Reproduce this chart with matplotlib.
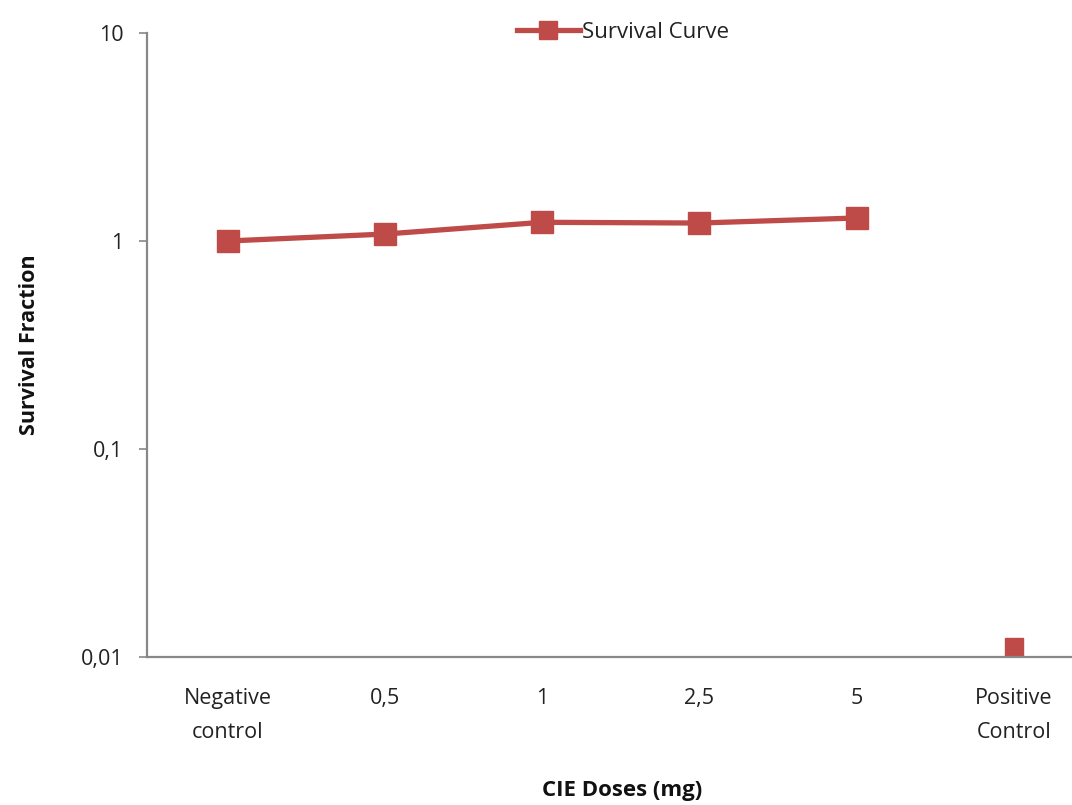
import matplotlib
matplotlib.use("Agg")
import matplotlib.pyplot as plt
import numpy as np

categories = ["Negative\ncontrol", "0,5", "1", "2,5", "5", "Positive\nControl"]
survival = [1.0, 1.08, 1.23, 1.22, 1.29, 0.0112]
connected = [True, True, True, True, True, False]
yticks = [0.01, 0.1, 1, 10]
ytick_labels = ["0,01", "0,1", "1", "10"]

plt.rcParams['font.family'] = ['Open Sans', 'DejaVu Sans']

W, H = 1072, 805
fig = plt.figure(figsize=(W / 100, H / 100), dpi=100)
ax = fig.add_axes([147 / W, 1 - 657 / H, 1 - 147 / W, (657 - 33) / H])

color = "#be4b48"
x = np.arange(len(categories))
surv = np.array(survival)
conn = np.array(connected)
line, = ax.plot(x[conn], surv[conn], color=color, lw=3.8, marker="s", ms=15.5,
                markeredgecolor=color, label="Survival Curve")
ax.plot(x[~conn], surv[~conn], color=color, lw=0, marker="s", ms=13.5,
        markeredgecolor=color)

ax.set_yscale("log")
ax.set_ylim(0.01, 10)
ax.set_xlim(-0.515, 5.37)
ax.set_yticks(yticks)
ax.set_yticklabels(ytick_labels, fontsize=15.5, color="#222222")
ax.yaxis.set_minor_locator(matplotlib.ticker.NullLocator())
ax.set_xticks(x)
ax.set_xticklabels(categories, fontsize=15.5, color="#222222", linespacing=1.85)
ax.tick_params(axis="x", length=0, pad=22)
ax.tick_params(axis="y", length=6, width=1.2, color="#888888", pad=11, direction="out")

for s in ["top", "right"]:
    ax.spines[s].set_visible(False)
for s in ["left", "bottom"]:
    ax.spines[s].set_color("#888888")
    ax.spines[s].set_linewidth(1.6)

fig.text(30 / W, 1 - 345 / H, "Survival Fraction", rotation=90, fontsize=15.5,
         fontweight="bold", ha="center", va="center", color="#111111")
fig.text(622 / W, 1 - 790 / H, "CIE Doses (mg)", fontsize=16,
         fontweight="bold", ha="center", va="center", color="#111111")

leg = fig.legend(handles=[line], loc="center", bbox_to_anchor=(623 / W, 1 - 32 / H),
                 frameon=False, fontsize=16, handlelength=2.8, handletextpad=0.1,
                 borderpad=0, markerscale=0.85)
for t in leg.get_texts():
    t.set_color("#222222")

fig.savefig("out.png", dpi=100)
